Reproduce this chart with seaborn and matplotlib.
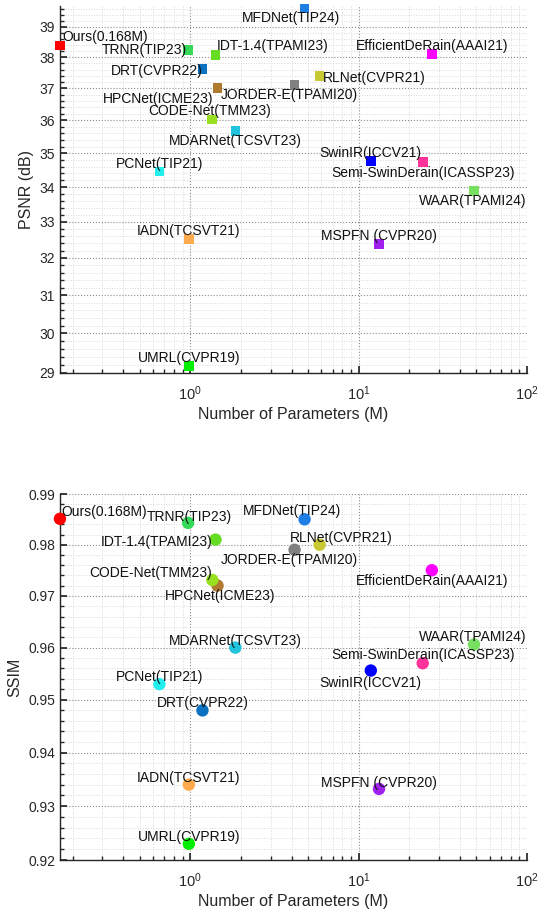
import numpy as np
import pandas as pd
import matplotlib
matplotlib.use("Agg")
import matplotlib.pyplot as plt
import matplotlib.ticker as mticker
import seaborn as sns

# values
methods = ["Ours(0.168M)", "TRNR(TIP23)", "IDT-1.4(TPAMI23)", "DRT(CVPR22)",
           "HPCNet(ICME23)", "CODE-Net(TMM23)", "MDARNet(TCSVT23)", "PCNet(TIP21)",
           "MFDNet(TIP24)", "EfficientDeRain(AAAI21)", "RLNet(CVPR21)",
           "JORDER-E(TPAMI20)", "SwinIR(ICCV21)", "Semi-SwinDerain(ICASSP23)",
           "WAAR(TPAMI24)", "MSPFN (CVPR20)", "IADN(TCSVT21)", "UMRL(CVPR19)"]
params = [0.168, 0.97, 1.41, 1.18, 1.45, 1.35, 1.85, 0.655, 4.77, 27.2, 5.86,
          4.16, 11.8, 24.0, 48.4, 13.2, 0.98, 0.98]
psnr = [38.38, 38.24, 38.07, 37.61, 37.0, 36.03, 35.68, 34.46, 39.62, 38.1,
        37.39, 37.1, 34.77, 34.74, 33.88, 32.39, 32.52, 29.17]
ssim = [0.9851, 0.9843, 0.981, 0.948, 0.972, 0.9731, 0.960, 0.953, 0.985,
        0.975, 0.980, 0.979, 0.9556, 0.957, 0.9606, 0.9332, 0.934, 0.923]
colors = ["#ff0000", "#33d957", "#66dd22", "#0a72c0", "#b07a30", "#99e020",
          "#20c4dc", "#22eeee", "#1e7ee6", "#ff00ff", "#c8c832", "#808080",
          "#0000ff", "#ff3399", "#77e060", "#a020f0", "#ffaa4c", "#00ee00"]

# label placement: (ha, dx px, dy px) relative to the marker
psnr_lbl = {
    "Ours(0.168M)": ("left", 2, 9), "TRNR(TIP23)": ("right", -1, 0),
    "IDT-1.4(TPAMI23)": ("left", 1, 9), "DRT(CVPR22)": ("right", 0, -2),
    "HPCNet(ICME23)": ("right", -4, -11), "CODE-Net(TMM23)": ("center", -3, 8),
    "MDARNet(TCSVT23)": ("center", 0, -10), "PCNet(TIP21)": ("center", 0, 7),
    "MFDNet(TIP24)": ("center", -14, -10), "EfficientDeRain(AAAI21)": ("center", 0, 8),
    "RLNet(CVPR21)": ("left", 3, -2), "JORDER-E(TPAMI20)": ("center", -5, -10),
    "SwinIR(ICCV21)": ("center", 0, 8), "Semi-SwinDerain(ICASSP23)": ("center", 0, -11),
    "WAAR(TPAMI24)": ("center", -1, -10), "MSPFN (CVPR20)": ("center", 0, 8),
    "IADN(TCSVT21)": ("center", 0, 8), "UMRL(CVPR19)": ("center", 0, 8),
}
ssim_lbl = {
    "Ours(0.168M)": ("left", 1, 7), "TRNR(TIP23)": ("center", 1, 6),
    "IDT-1.4(TPAMI23)": ("right", -3, -2), "DRT(CVPR22)": ("center", 0, 7),
    "HPCNet(ICME23)": ("center", 3, -10), "CODE-Net(TMM23)": ("right", 0, 7),
    "MDARNet(TCSVT23)": ("center", 0, 7), "PCNet(TIP21)": ("center", 0, 7),
    "MFDNet(TIP24)": ("center", -13, 8), "EfficientDeRain(AAAI21)": ("center", 0, -11),
    "RLNet(CVPR21)": ("center", 22, 7), "JORDER-E(TPAMI20)": ("center", -5, -10),
    "SwinIR(ICCV21)": ("center", 0, -12), "Semi-SwinDerain(ICASSP23)": ("center", 0, 8),
    "WAAR(TPAMI24)": ("center", -1, 7), "MSPFN (CVPR20)": ("center", 0, 6),
    "IADN(TCSVT21)": ("center", 0, 7), "UMRL(CVPR19)": ("center", 0, 7),
}

df = pd.DataFrame({"method": methods, "params": params, "psnr": psnr, "ssim": ssim})
palette = dict(zip(methods, colors))

sns.set_theme(style="white")
plt.rcParams["font.family"] = ["Liberation Sans", "DejaVu Sans"]
plt.rcParams["mathtext.fontset"] = "custom"
plt.rcParams["mathtext.rm"] = "Liberation Sans"

fig = plt.figure(figsize=(5.4, 9.09), dpi=100)
ax1 = fig.add_axes([0.111, 0.5897, 0.865, 0.4037])
ax2 = fig.add_axes([0.111, 0.0539, 0.865, 0.4026])


def style_axis(ax, ylabel, yticks, ymin_step, fmt):
    ax.set_xscale("log")
    ax.set_yscale("log")
    ax.set_xlim(0.168, 100)
    ax.xaxis.set_major_locator(mticker.FixedLocator([1, 10, 100]))
    ax.xaxis.set_minor_locator(mticker.LogLocator(base=10, subs=np.arange(2, 10)))
    ax.xaxis.set_minor_formatter(mticker.NullFormatter())
    ax.yaxis.set_major_locator(mticker.FixedLocator(yticks))
    ax.yaxis.set_major_formatter(mticker.FuncFormatter(lambda v, p: fmt.format(v)))
    ax.yaxis.set_minor_locator(mticker.MultipleLocator(ymin_step))
    ax.yaxis.set_minor_formatter(mticker.NullFormatter())
    ax.grid(True, which="major", linestyle=":", color="#8c8c8c", linewidth=0.8)
    ax.grid(True, which="minor", linestyle=":", color="#d8d8d8", linewidth=0.7)
    ax.set_axisbelow(True)
    for s in ["top", "right"]:
        ax.spines[s].set_visible(False)
    for s in ["left", "bottom"]:
        ax.spines[s].set_color("#262626")
        ax.spines[s].set_linewidth(1.0)
    ax.tick_params(which="both", direction="in", left=True, bottom=True,
                   colors="#262626", labelsize=10)
    ax.tick_params(which="major", length=5)
    ax.tick_params(which="minor", length=3)
    ax.tick_params(axis="x", which="major", pad=8, labelsize=10.5)
    ax.set_xlabel("Number of Parameters (M)", fontsize=11.5, color="#262626", labelpad=3)
    ax.set_ylabel(ylabel, fontsize=11.5, color="#262626")


sns.scatterplot(data=df, x="params", y="psnr", hue="method", palette=palette,
                marker="s", s=48, linewidth=0, legend=False, ax=ax1,
                clip_on=False, zorder=3)
ax1.set_ylim(29, 39.7)
style_axis(ax1, "PSNR (dB)", list(range(29, 40)), 0.2, "{:g}")

sns.scatterplot(data=df, x="params", y="ssim", hue="method", palette=palette,
                marker="o", s=80, linewidth=0, legend=False, ax=ax2,
                clip_on=False, zorder=3)
ax2.set_ylim(0.92, 0.99)
style_axis(ax2, "SSIM", [0.92, 0.93, 0.94, 0.95, 0.96, 0.97, 0.98, 0.99], 0.002, "{:.2f}")

for ax, col, lbl in [(ax1, "psnr", psnr_lbl), (ax2, "ssim", ssim_lbl)]:
    for _, row in df.iterrows():
        ha, dx, dy = lbl[row["method"]]
        ax.annotate(row["method"], (row["params"], row[col]), xytext=(dx, dy),
                    textcoords="offset pixels", ha=ha, va="center",
                    fontsize=10, color="#111111", zorder=4, annotation_clip=False)

fig.savefig("out.png", dpi=100)
